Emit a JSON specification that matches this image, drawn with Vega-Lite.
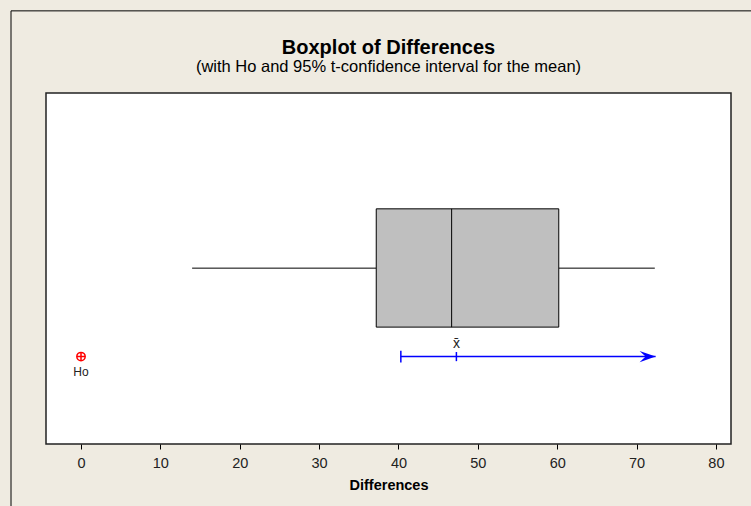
{
  "$schema": "https://vega.github.io/schema/vega-lite/v6.json",
  "width": 685,
  "height": 351,
  "autosize": {"type": "none"},
  "padding": {"left": 46, "top": 93, "right": 20, "bottom": 62},
  "background": "#EFEBE1",
  "config": {
    "view": {"fill": "white", "stroke": "#222", "strokeWidth": 1.5},
    "font": "Liberation Sans, Arial, sans-serif"
  },
  "title": {
    "text": "Boxplot of Differences",
    "subtitle": "(with Ho and 95% t-confidence interval for the mean)",
    "font": "Liberation Sans, sans-serif",
    "fontSize": 20,
    "fontWeight": "bold",
    "color": "black",
    "subtitleFont": "Liberation Sans, sans-serif",
    "subtitleFontSize": 16.5,
    "subtitleColor": "black",
    "subtitlePadding": 1,
    "anchor": "middle",
    "frame": "group",
    "offset": -65
  },
  "datasets": {
    "box": [{"lo": 14.0, "q1": 37.2, "median": 46.7, "q3": 60.2, "hi": 72.3}],
    "ci": [{"lower": 40.3, "mean": 47.3, "upper": 72.4, "h0": 0}]
  },
  "layer": [
    {
      "data": {"name": "box"},
      "mark": {"type": "rect", "fill": null, "fillOpacity": 0, "stroke": "black", "strokeWidth": 1},
      "encoding": {
        "x": {"datum": -8.82, "type": "quantitative", "scale": {"domain": [-4.41, 81.9], "nice": false, "zero": false},
              "axis": {"values": [0, 10, 20, 30, 40, 50, 60, 70, 80], "title": "Differences", "grid": false, "domain": false,
                       "tickSize": 5, "tickColor": "black", "labelFontSize": 14.5, "labelColor": "#222", "labelPadding": 7,
                       "titleFontSize": 14.5, "titleFontWeight": "bold", "titleColor": "black", "titlePadding": 9}},
        "x2": {"datum": 90},
        "y": {"datum": 1.234, "type": "quantitative", "scale": {"domain": [0, 1], "nice": false, "zero": false}, "axis": null},
        "y2": {"datum": -0.3}
      }
    },
    {
      "data": {"name": "box"},
      "mark": {"type": "rule", "color": "black", "strokeWidth": 1},
      "encoding": {"x": {"field": "lo", "type": "quantitative"}, "x2": {"field": "q1"}, "y": {"datum": 0.501}}
    },
    {
      "data": {"name": "box"},
      "mark": {"type": "rule", "color": "black", "strokeWidth": 1},
      "encoding": {"x": {"field": "q3", "type": "quantitative"}, "x2": {"field": "hi"}, "y": {"datum": 0.501}}
    },
    {
      "data": {"name": "box"},
      "mark": {"type": "rect", "fill": "#BFBFBF", "stroke": "black", "strokeWidth": 1},
      "encoding": {"x": {"field": "q1", "type": "quantitative"}, "x2": {"field": "q3"}, "y": {"datum": 0.333}, "y2": {"datum": 0.67}}
    },
    {
      "data": {"name": "box"},
      "mark": {"type": "rule", "color": "black", "strokeWidth": 1},
      "encoding": {"x": {"field": "median", "type": "quantitative"}, "y": {"datum": 0.333}, "y2": {"datum": 0.67}}
    },
    {
      "data": {"name": "ci"},
      "mark": {"type": "rule", "color": "blue", "strokeWidth": 1.5},
      "encoding": {"x": {"field": "lower", "type": "quantitative"}, "x2": {"field": "upper"}, "y": {"datum": 0.249}}
    },
    {
      "data": {"name": "ci"},
      "mark": {"type": "rule", "color": "blue", "strokeWidth": 1.5},
      "encoding": {"x": {"field": "lower", "type": "quantitative"}, "y": {"datum": 0.232}, "y2": {"datum": 0.266}}
    },
    {
      "data": {"name": "ci"},
      "mark": {"type": "rule", "color": "blue", "strokeWidth": 1.5},
      "encoding": {"x": {"field": "mean", "type": "quantitative"}, "y": {"datum": 0.236}, "y2": {"datum": 0.262}}
    },
    {
      "data": {"name": "ci"},
      "mark": {"type": "point", "shape": "M-2,-0.7L0,0L-2,0.7L-1.25,0Z", "filled": true, "color": "blue", "size": 256, "opacity": 1},
      "encoding": {"x": {"field": "upper", "type": "quantitative"}, "y": {"datum": 0.249}}
    },
    {
      "data": {"name": "ci"},
      "mark": {"type": "text", "text": "x̄", "fontSize": 14, "color": "#222", "baseline": "middle"},
      "encoding": {"x": {"field": "mean", "type": "quantitative"}, "y": {"datum": 0.285}}
    },
    {
      "data": {"name": "ci"},
      "mark": {"type": "point", "shape": "circle", "filled": false, "color": "red", "strokeWidth": 1.5, "size": 70, "opacity": 1},
      "encoding": {"x": {"field": "h0", "type": "quantitative"}, "y": {"datum": 0.249}}
    },
    {
      "data": {"name": "ci"},
      "mark": {"type": "point", "shape": "M-1,0L1,0M0,-1L0,1", "filled": false, "color": "red", "strokeWidth": 1.5, "size": 70, "opacity": 1},
      "encoding": {"x": {"field": "h0", "type": "quantitative"}, "y": {"datum": 0.249}}
    },
    {
      "data": {"name": "ci"},
      "mark": {"type": "text", "text": "Ho", "fontSize": 12, "color": "#222", "baseline": "middle"},
      "encoding": {"x": {"field": "h0", "type": "quantitative"}, "y": {"datum": 0.205}}
    }
  ]
}
